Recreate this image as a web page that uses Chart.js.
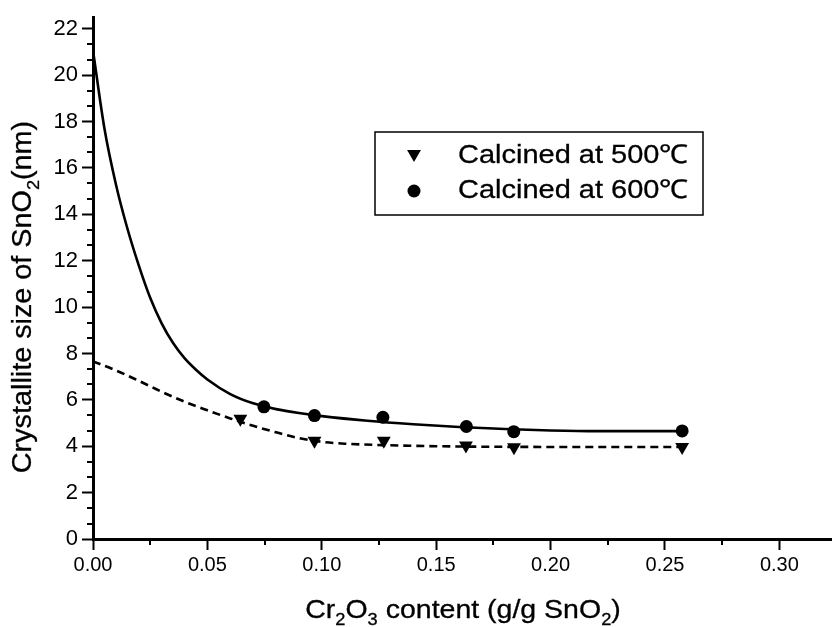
<!DOCTYPE html>
<html>
<head>
<meta charset="utf-8">
<title>Crystallite size vs Cr2O3 content</title>
<script src="https://cdn.jsdelivr.net/npm/chart.js@4.4.1/dist/chart.umd.min.js"></script>
<style>
  html, body { margin: 0; padding: 0; background: #fff; }
  #wrap { width: 832px; height: 627px; }
</style>
</head>
<body>
<div id="wrap"><canvas id="chart" width="832" height="627"></canvas></div>
<script>
// Axis ticks
const xMajorTicks = [0, 0.05, 0.10, 0.15, 0.20, 0.25, 0.30];
const yMajorTicks = [0, 2, 4, 6, 8, 10, 12, 14, 16, 18, 20, 22];

// Measured crystallite size (nm) vs Cr2O3 content (g/g SnO2)
const x500 = [0.0644, 0.0968, 0.1271, 0.1630, 0.1840, 0.2575];
const y500 = [5.18, 4.24, 4.24, 4.03, 3.96, 3.97];
const x600 = [0.0747, 0.0968, 0.1267, 0.1632, 0.1839, 0.2575];
const y600 = [5.70, 5.32, 5.25, 4.85, 4.63, 4.66];

// Fitted curves
const fitX600 = [0, 0.005, 0.010, 0.015, 0.020, 0.025, 0.030, 0.035, 0.040, 0.045, 0.050, 0.060, 0.070, 0.080, 0.090, 0.100, 0.120, 0.140, 0.160, 0.180, 0.200, 0.220, 0.2575];
const fitY600 = [21.07, 17.7, 15.3, 13.4, 11.8, 10.4, 9.3, 8.45, 7.8, 7.3, 6.88, 6.25, 5.85, 5.6, 5.43, 5.3, 5.1, 4.95, 4.83, 4.74, 4.68, 4.65, 4.65];
const fitX500 = [0, 0.010, 0.020, 0.030, 0.040, 0.050, 0.060, 0.070, 0.080, 0.090, 0.100, 0.110, 0.130, 0.150, 0.200, 0.2575];
const fitY500 = [7.66, 7.27, 6.82, 6.35, 5.92, 5.55, 5.2, 4.88, 4.6, 4.35, 4.19, 4.11, 4.04, 4.0, 3.97, 3.97];

const legendLabels = ["Calcined at 500\u2103", "Calcined at 600\u2103"];

const FONT = 'Arial, "Liberation Sans", sans-serif';

const toPoints = (xs, ys) => xs.map((x, i) => ({ x: x, y: ys[i] }));

// fill + hairline stroke, gives the text a slightly heavier look
function heavyText(ctx, txt, x, y) {
  ctx.fillText(txt, x, y);
  ctx.strokeText(txt, x, y);
}

// draw a string made of [text, subscript?] pieces, centred on x, stretched by sx
function drawRichText(ctx, parts, x, y, size, sx) {
  const subSize = Math.round(size * 0.62);
  let total = 0;
  parts.forEach(p => {
    ctx.font = (p[1] ? subSize : size) + "px " + FONT;
    total += ctx.measureText(p[0]).width;
  });
  ctx.save();
  ctx.translate(x, y);
  ctx.scale(sx, 1);
  ctx.lineWidth = 0.3;
  let cx = -total / 2;
  ctx.textAlign = "left";
  ctx.textBaseline = "alphabetic";
  parts.forEach(p => {
    ctx.font = (p[1] ? subSize : size) + "px " + FONT;
    heavyText(ctx, p[0], cx, p[1] ? size * 0.28 : 0);
    cx += ctx.measureText(p[0]).width;
  });
  ctx.restore();
}

function downTriangle(ctx, x, y, r) {
  ctx.beginPath();
  ctx.moveTo(x - r * 0.866, y - r * 0.5);
  ctx.lineTo(x + r * 0.866, y - r * 0.5);
  ctx.lineTo(x, y + r);
  ctx.closePath();
  ctx.fill();
}

const decorations = {
  id: "decorations",
  afterDraw(chart) {
    const ctx = chart.ctx;
    const xs = chart.scales.x, ys = chart.scales.y;
    const area = chart.chartArea;
    ctx.save();
    ctx.strokeStyle = "#000";
    ctx.fillStyle = "#000";
    ctx.lineWidth = 2;

    // minor ticks
    ctx.beginPath();
    for (let v = 0.025; v < xs.max; v += 0.05) {
      const px = Math.round(xs.getPixelForValue(v));
      ctx.moveTo(px, area.bottom);
      ctx.lineTo(px, area.bottom + 6);
    }
    for (let i = 0; i < yMajorTicks.length; i++) {
      for (let k = 1; k <= 2; k++) {
        const v = yMajorTicks[i] + k * 2 / 3;
        if (v > ys.max) continue;
        const py = Math.round(ys.getPixelForValue(v));
        ctx.moveTo(area.left, py);
        ctx.lineTo(area.left - 6, py);
      }
    }
    ctx.stroke();

    // axis titles
    drawRichText(ctx, [["Cr", 0], ["2", 1], ["O", 0], ["3", 1], [" content (g/g SnO", 0], ["2", 1], [")", 0]], 463, 618, 25, 1.14);
    ctx.save();
    ctx.translate(31, 297);
    ctx.rotate(-Math.PI / 2);
    drawRichText(ctx, [["Crystallite size of SnO", 0], ["2", 1], ["(nm)", 0]], 0, 0, 27, 1.066);
    ctx.restore();

    // legend box
    ctx.fillStyle = "#fff";
    ctx.fillRect(375, 132, 328, 83);
    ctx.lineWidth = 1.5;
    ctx.strokeRect(375, 132, 328, 83);
    ctx.fillStyle = "#000";
    downTriangle(ctx, 414, 154, 8);
    ctx.beginPath();
    ctx.arc(414, 191, 6.5, 0, Math.PI * 2);
    ctx.fill();
    ctx.font = "26px " + FONT;
    ctx.textAlign = "left";
    ctx.textBaseline = "middle";
    ctx.lineWidth = 0.3;
    [156, 191].forEach((ty, i) => {
      ctx.save();
      ctx.translate(458, ty);
      ctx.scale(1.115, 1);
      heavyText(ctx, legendLabels[i], 0, 0);
      ctx.restore();
    });
    ctx.restore();
  }
};

new Chart(document.getElementById("chart"), {
  type: "scatter",
  data: {
    datasets: [
      {
        label: legendLabels[0],
        data: toPoints(x500, y500),
        pointStyle: "triangle",
        rotation: 180,
        pointRadius: 8,
        backgroundColor: "#000",
        borderColor: "#000",
        borderWidth: 0
      },
      {
        label: legendLabels[1],
        data: toPoints(x600, y600),
        pointStyle: "circle",
        pointRadius: 6.5,
        backgroundColor: "#000",
        borderColor: "#000",
        borderWidth: 0
      },
      {
        label: "fit 600",
        data: toPoints(fitX600, fitY600),
        showLine: true,
        pointRadius: 0,
        borderColor: "#000",
        borderWidth: 2.6,
        cubicInterpolationMode: "monotone",
        fill: false
      },
      {
        label: "fit 500",
        data: toPoints(fitX500, fitY500),
        showLine: true,
        pointRadius: 0,
        borderColor: "#000",
        borderWidth: 2.6,
        borderDash: [8, 5],
        cubicInterpolationMode: "monotone",
        fill: false
      }
    ]
  },
  options: {
    responsive: false,
    animation: false,
    events: [],
    layout: { autoPadding: false, padding: { top: 15, right: 0, left: 0, bottom: 0 } },
    plugins: {
      legend: { display: false },
      tooltip: { enabled: false }
    },
    scales: {
      x: {
        type: "linear",
        min: 0,
        max: 0.323,
        afterBuildTicks: s => { s.ticks = xMajorTicks.map(v => ({ value: v })); },
        afterFit: s => { s.height = 88; },
        grid: { drawOnChartArea: false, drawTicks: true, tickLength: 11, tickWidth: 2, tickColor: "#000" },
        border: { display: true, color: "#000", width: 3 },
        ticks: {
          color: "#000",
          font: { family: FONT, size: 20 },
          padding: 3,
          maxRotation: 0,
          autoSkip: false,
          callback: v => v.toFixed(2)
        }
      },
      y: {
        type: "linear",
        min: 0,
        max: 22.5,
        afterBuildTicks: s => { s.ticks = yMajorTicks.map(v => ({ value: v })); },
        afterFit: s => { s.width = 93; },
        grid: { drawOnChartArea: false, drawTicks: true, tickLength: 11, tickWidth: 2, tickColor: "#000" },
        border: { display: true, color: "#000", width: 3 },
        ticks: {
          color: "#000",
          font: { family: FONT, size: 22 },
          padding: 4,
          autoSkip: false,
          callback: v => String(v)
        }
      }
    }
  },
  plugins: [decorations]
});
</script>
</body>
</html>
